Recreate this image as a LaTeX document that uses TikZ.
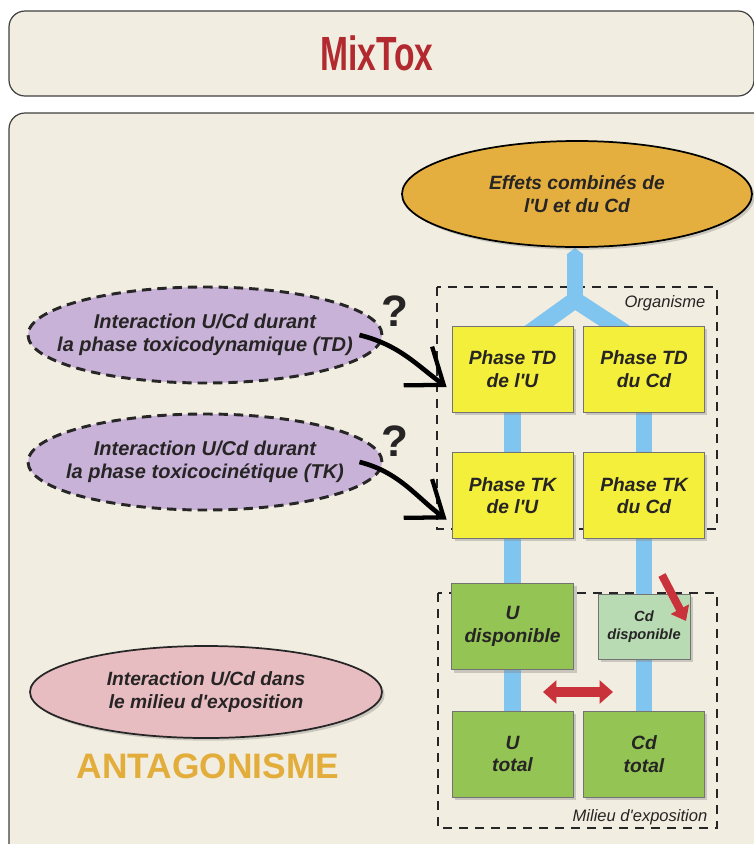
\documentclass[tikz,border=0pt]{standalone}
\usepackage{fontspec}
\setmainfont{Liberation Sans}[Ligatures=TeXOff]
\usepackage{graphicx}
\usetikzlibrary{arrows.meta,shapes.geometric,shadows}

\pgfdeclarelayer{back}
\pgfdeclarelayer{flow}
\pgfsetlayers{back,flow,main}

\definecolor{cream}{HTML}{F1EDE0}
\definecolor{mixred}{HTML}{B22A2F}
\definecolor{effetorange}{HTML}{E4AF3F}
\definecolor{tdlilac}{HTML}{C9B2D7}
\definecolor{exppink}{HTML}{E8BDC1}
\definecolor{phaseyellow}{HTML}{F3EF3B}
\definecolor{dispogreen}{HTML}{93C454}
\definecolor{palegreen}{HTML}{B9DBB4}
\definecolor{flowblue}{HTML}{80C5EF}
\definecolor{arrowred}{HTML}{C9313B}
\definecolor{antagold}{HTML}{E3AD3C}
\definecolor{ink}{HTML}{262424}

\newcommand{\boxtext}{\fontsize{14.4}{17}\selectfont\bfseries\itshape}

\tikzset{
    panel/.style={draw=black!75, line width=0.9pt, fill=cream, rounded corners=12pt},
    boxshadow/.style={drop shadow={shadow xshift=2pt, shadow yshift=-2pt, opacity=0.35}},
    phase/.style={draw=black!55, line width=0.6pt, fill=phaseyellow, text=ink,
        minimum width=90.75pt, minimum height=64.5pt, align=center, font=\boxtext, boxshadow},
    dispo/.style={phase, fill=dispogreen, minimum width=92pt, minimum height=65pt},
    cdfree/.style={phase, fill=palegreen, minimum width=69pt, minimum height=48.75pt,
        font=\fontsize{11}{13.5}\selectfont\bfseries\itshape},
    effet/.style={ellipse, draw=black, line width=1.3pt, fill=effetorange, text=ink,
        minimum width=262.5pt, minimum height=79.5pt, inner xsep=-20pt, inner ysep=0pt,
        align=center, font=\boxtext, boxshadow},
    interaction/.style={ellipse, draw=black!85, line width=2.2pt, dash pattern=on 7pt off 4.5pt,
        fill=tdlilac, text=ink, minimum width=265.5pt, minimum height=72pt,
        inner xsep=-20pt, inner ysep=0pt, align=center,
        font=\fontsize{15}{17}\selectfont\bfseries\itshape},
    milieu/.style={interaction, solid, line width=1.3pt, fill=exppink,
        minimum width=264pt, minimum height=69pt, font=\boxtext, boxshadow},
    flow/.style={draw=flowblue, line width=12.5pt},
    zone/.style={draw=black!85, line width=1.8pt, dash pattern=on 7pt off 5pt},
    zonelabel/.style={font=\fontsize{12.4}{14}\selectfont\itshape, text=ink},
    curvy/.style={draw=black, line width=3.5pt,
        -{Straight Barb[length=24pt,width=36pt,line width=3.2pt]}},
    redarrow/.style={draw=arrowred, line width=7pt},
    qmark/.style={font=\fontsize{33}{33}\selectfont\bfseries, text=ink}
}

\begin{document}
\begin{tikzpicture}[x=0.75pt,y=-0.75pt]
            \useasboundingbox (0,0) rectangle (754,844);

            \begin{pgfonlayer}{back}
                \fill[white] (0,0) rectangle (754,844);
                \draw[panel] (9,11) rectangle (754,96);
                \draw[panel] (9,113) rectangle (770,860);
            \end{pgfonlayer}

            \node[font=\fontsize{36}{36}\selectfont\bfseries, text=mixred] (title) at (377,53)
                {\scalebox{0.7}[1]{MixTox}};

            \node[effet] (effets) at (577,194) {Effets combinés de\\l'U et du Cd};

            \node[interaction] (tdint) at (205,335) {Interaction U/Cd durant\\la phase toxicodynamique (TD)};
            \node[interaction] (tkint) at (205,462) {Interaction U/Cd durant\\la phase toxicocinétique (TK)};
            \node[milieu] (expint) at (206,692) {Interaction U/Cd dans\\le milieu d'exposition};

            \node[font=\fontsize{26.5}{28}\selectfont\bfseries, text=antagold] (antag) at (208,766) {ANTAGONISME};

            \node[qmark] (q1) at (395,311) {?};
            \node[qmark] (q2) at (395,441) {?};

            \node[phase] (tdU) at (512.5,369) {Phase TD\\de l'U};
            \node[phase] (tdCd) at (644,369) {Phase TD\\du Cd};
            \node[phase] (tkU) at (512.5,495.5) {Phase TK\\de l'U};
            \node[phase] (tkCd) at (644,495.5) {Phase TK\\du Cd};
            \node[dispo] (dispU) at (512.5,626.5) {U\\disponible};
            \node[cdfree] (dispCd) at (644,626.5) {Cd\\disponible};
            \node[dispo, minimum width=90.75pt, minimum height=64.5pt] (totU) at (512.5,754) {U\\total};
            \node[dispo, minimum width=90.75pt, minimum height=64.5pt] (totCd) at (644,754) {Cd\\total};

            \node[zonelabel] (organisme) at (665,303) {Organisme};
            \node[zonelabel] (milieu) at (640,817) {Milieu d'exposition};

            \coordinate (fork) at (575,300);

            \begin{pgfonlayer}{flow}
                \draw[zone] (437,287) rectangle (717,529);
                \draw[zone] (438,593) rectangle (717,828);
                \draw[flow] (tdU.center) -- (tkU.center) -- (dispU.center) -- (totU.center);
                \draw[flow] (tdCd.center) -- (tkCd.center) -- (dispCd.center) -- (totCd.center);
                \draw[flow] (tdU.center) -- ([yshift=18pt]tdU.center) -- (fork)
                    -- ([yshift=18pt]tdCd.center) -- (tdCd.center);
                \draw[flow, -{Triangle[length=5pt,width=12.5pt]}] (fork) -- (fork |- effets.south);
            \end{pgfonlayer}

            \draw[curvy] ([xshift=-18pt]tdint.east) .. controls +(40,10) and +(-30,-22)
                .. ([xshift=-3.75pt,yshift=-13.5pt]tdU.west);
            \draw[curvy] ([xshift=-18pt]tkint.east) .. controls +(40,10) and +(-30,-22)
                .. ([xshift=-3.75pt,yshift=-18pt]tkU.west);

            \coordinate (echL) at (543,692);
            \coordinate (echR) at (613,692);
            \draw[redarrow, {Triangle[length=10pt,width=17pt]}-{Triangle[length=10pt,width=17pt]}]
                (echL) -- (echR);
            \coordinate (relA) at (662,575);
            \coordinate (relB) at (686,621);
            \draw[redarrow, line width=6pt, -{Triangle[length=10pt,width=15pt]}] (relA) -- (relB);
\end{tikzpicture}
\end{document}
